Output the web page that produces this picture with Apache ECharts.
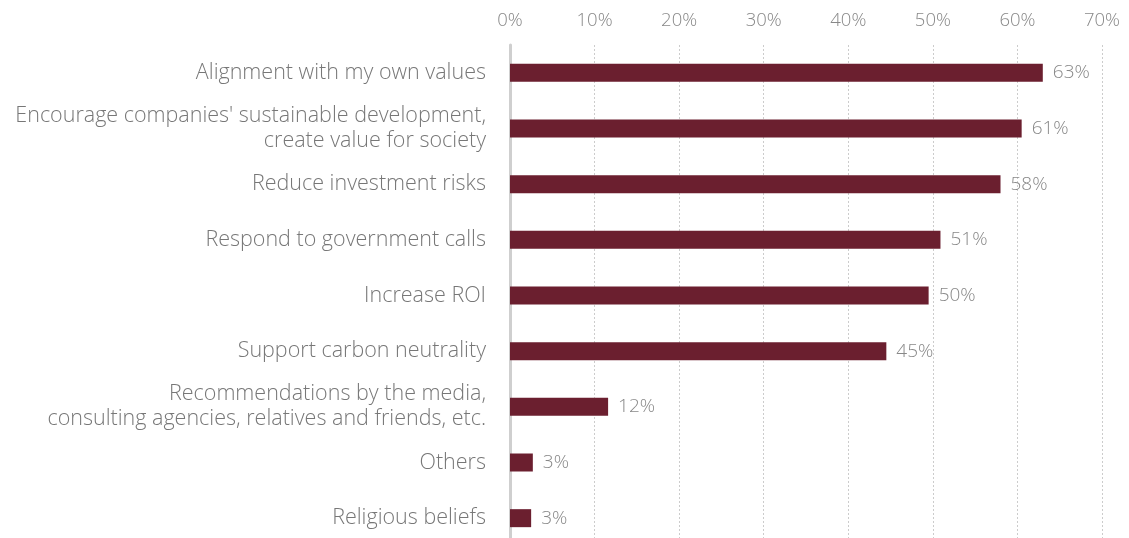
<!DOCTYPE html>
<html>
<head>
<meta charset="utf-8">
<script src="https://cdn.jsdelivr.net/npm/echarts@6/dist/echarts.min.js"></script>
<style>
html,body{margin:0;padding:0;background:#fff;}
#chart{width:1129px;height:538px;}
</style>
</head>
<body>
<div id="chart"></div>
<script>
const categories = [
  "Alignment with my own values",
  "Encourage companies' sustainable development,\ncreate value for society",
  "Reduce investment risks",
  "Respond to government calls",
  "Increase ROI",
  "Support carbon neutrality",
  "Recommendations by the media,\nconsulting agencies, relatives and friends, etc.",
  "Others",
  "Religious beliefs"
];
const values = [63, 60.5, 58, 50.9, 49.5, 44.5, 11.6, 2.7, 2.5];
const tickMax = 70;
const tickStep = 10;

const FONT = '"Open Sans", "Noto Sans", sans-serif';
const chart = echarts.init(document.getElementById('chart'));
chart.setOption({
  animation: false,
  grid: { left: 510, width: 592, top: 45, height: 501, containLabel: false, outerBoundsMode: 'none' },
  xAxis: {
    type: 'value', position: 'top', min: 0, max: tickMax, interval: tickStep,
    axisLine: { show: false }, axisTick: { show: false },
    axisLabel: { formatter: '{value}%', color: '#888', fontSize: 18.5, fontFamily: FONT, fontWeight: 300, margin: 15 },
    splitLine: { show: true, lineStyle: { type: [2, 2], color: '#ccc', width: 1 } }
  },
  yAxis: {
    type: 'category', inverse: true, data: categories,
    axisLine: { show: true, lineStyle: { color: '#cfcfcf', width: 3 } },
    axisTick: { show: false },
    axisLabel: { color: '#777', fontSize: 21.5, fontFamily: FONT, fontWeight: 300, margin: 24, lineHeight: 25, align: 'right' }
  },
  series: [{
    type: 'bar', data: values, barWidth: 18,
    itemStyle: { color: '#6b1f2f' },
    label: { show: true, position: 'right', distance: 10, color: '#888', fontSize: 19, fontFamily: FONT, fontWeight: 300,
      formatter: p => Math.round(p.value) + '%' }
  }]
});
</script>
</body>
</html>
